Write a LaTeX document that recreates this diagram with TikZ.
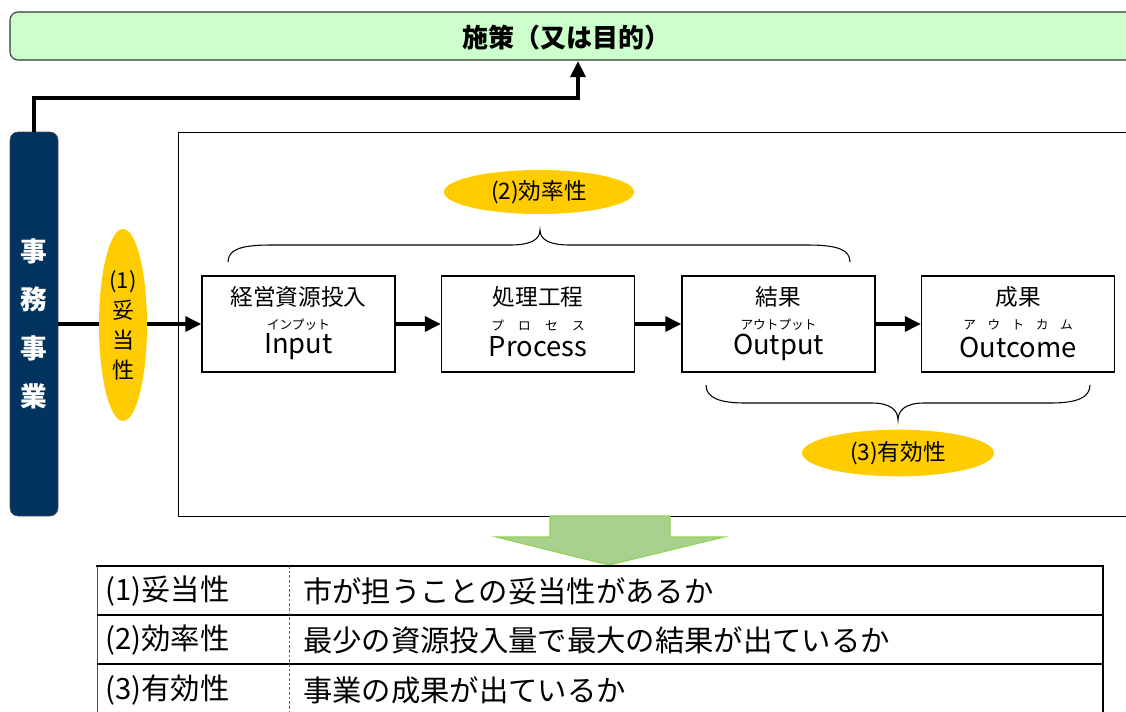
\documentclass[tikz,border=0pt]{standalone}
\usepackage{fontspec}
\setmainfont{Noto Sans CJK JP}
\usetikzlibrary{arrows.meta,shapes.geometric}
\definecolor{navy}{HTML}{00335F}
\definecolor{lightgreen}{HTML}{CCFFCC}
\definecolor{gold}{HTML}{FFCC00}
\definecolor{arrowgreen}{HTML}{A9D18E}
\definecolor{arrowedge}{HTML}{8FD14F}
\tikzset{
  thickarrow/.style={line width=3pt,-{Triangle[length=12pt,width=11pt]}},
  procbox/.style={draw,line width=0.9pt,minimum width=144.75pt,minimum height=72pt,inner sep=0pt},
  lbl/.style={font=\fontsize{17}{20}\selectfont,inner sep=0pt},
  ruby/.style={font=\fontsize{9.5}{11}\selectfont,inner sep=0pt},
  eng/.style={font=\fontsize{20.5}{24}\selectfont,inner sep=0pt},
  goldell/.style={ellipse,fill=gold,inner sep=0pt},
  tabtext/.style={anchor=west,font=\fontsize{22}{26}\selectfont,inner sep=0pt},
  bracestyle/.style={line width=0.8pt}
}
\begin{document}
\begin{tikzpicture}[x=0.75pt,y=-0.75pt]
\useasboundingbox (0,0) rectangle (1126,711);

% top green bar
\node[draw=black!80,fill=lightgreen,rounded corners=6pt,line width=0.8pt,minimum width=847.5pt,minimum height=36pt,inner sep=0pt] (top) at (575,36) {};
\node[font=\bfseries\fontsize{19.5}{22}\selectfont,inner sep=0pt] (title) at (566,38) {施策（又は目的）};

% big frame
\node[draw,line width=0.75pt,minimum width=721.5pt,minimum height=288pt,inner sep=0pt] (frame) at (659,324) {};

% left navy bar
\node[draw=black!70,fill=navy,rounded corners=6pt,minimum width=36pt,minimum height=288pt,inner sep=0pt,
      text=white,align=center,font=\bfseries\fontsize{20}{36.4}\selectfont] (jimu) at (34,324) {事\\務\\事\\業};

% arrow from bar to top
\coordinate (toparr) at (578,61);
\draw[thickarrow] (jimu.north) -- ++(0,-34) -| (toparr);

% process boxes
\node[procbox] (in)  at (298.5,324) {};
\node[procbox] (pr)  at (538,324) {};
\node[procbox] (out) at (778.5,324) {};
\node[procbox] (oc)  at (1018,324) {};

\node[lbl] (inl) at (298.5,297) {経営資源投入};
\node[ruby] (inr) at (298.5,325) {インプット};
\node[eng] (ine) at (298.5,347) {Input};

\node[lbl] (prl) at (538,297) {処理工程};
\node[ruby] (prr) at (538,325) {\makebox[70pt][s]{プ\hfill ロ\hfill セ\hfill ス}};
\node[eng] (pre) at (538,347) {Process};

\node[lbl] (outl) at (778.5,297) {結果};
\node[ruby] (outr) at (778.5,325) {アウトプット};
\node[eng] (oute) at (778.5,347) {Output};

\node[lbl] (ocl) at (1018,297) {成果};
\node[ruby] (ocr) at (1018,325) {\makebox[82pt][s]{ア\hfill ウ\hfill ト\hfill カ\hfill ム}};
\node[eng] (oce) at (1018,347) {Outcome};

% arrows
\draw[thickarrow] (jimu.east) -- (in.west);
\draw[thickarrow] (in.east) -- (pr.west);
\draw[thickarrow] (pr.east) -- (out.west);
\draw[thickarrow] (out.east) -- (oc.west);

% ellipse (1)
\node[goldell,minimum width=36pt,minimum height=144pt,align=center,font=\fontsize{16.5}{22.5}\selectfont] (e1) at (123,325) {(1)\\妥\\当\\性};

% top brace
\draw[bracestyle] (228,262) .. controls (228,250) and (240,245) .. (270,245) -- (510,245)
  .. controls (530,245) and (540,240) .. (540,230)
  .. controls (540,240) and (550,245) .. (570,245) -- (808,245)
  .. controls (838,245) and (850,250) .. (850,262);
\node[goldell,minimum width=142.5pt,minimum height=33pt,font=\fontsize{17}{20}\selectfont] (e2) at (539,192) {(2)効率性};

% bottom brace
\draw[bracestyle] (706,385) .. controls (706,397) and (718,403) .. (745,403) -- (872,403)
  .. controls (890,403) and (898,410) .. (898,420)
  .. controls (898,410) and (906,403) .. (924,403) -- (1051,403)
  .. controls (1078,403) and (1090,397) .. (1090,385);
\node[goldell,minimum width=144pt,minimum height=35pt,font=\fontsize{17}{20}\selectfont] (e3) at (898,453) {(3)有効性};

% green down arrow
\draw[fill=arrowgreen,draw=arrowedge,line width=0.8pt] (550,516) -- (670,516) -- (670,537) -- (724,537) -- (609,565) -- (496,537) -- (550,537) -- cycle;

% table
\draw[line width=0.6pt,black!70] (97,566) -- (97,715);
\draw[line width=1.5pt] (96,566) -- (1103,566) -- (1103,715);
\draw[line width=1.5pt] (97,615) -- (1103,615);
\draw[line width=1.5pt] (97,664) -- (1103,664);
\draw[line width=0.6pt,black!60,dash pattern=on 2pt off 1.5pt] (289,566) -- (289,715);

\node[tabtext] (t11) at (105,591) {(1)妥当性};
\node[tabtext] (t12) at (303,591) {市が担うことの妥当性があるか};
\node[tabtext] (t21) at (105,640) {(2)効率性};
\node[tabtext] (t22) at (303,640) {最少の資源投入量で最大の結果が出ているか};
\node[tabtext] (t31) at (105,690) {(3)有効性};
\node[tabtext] (t32) at (303,690) {事業の成果が出ているか};
\end{tikzpicture}
\end{document}
